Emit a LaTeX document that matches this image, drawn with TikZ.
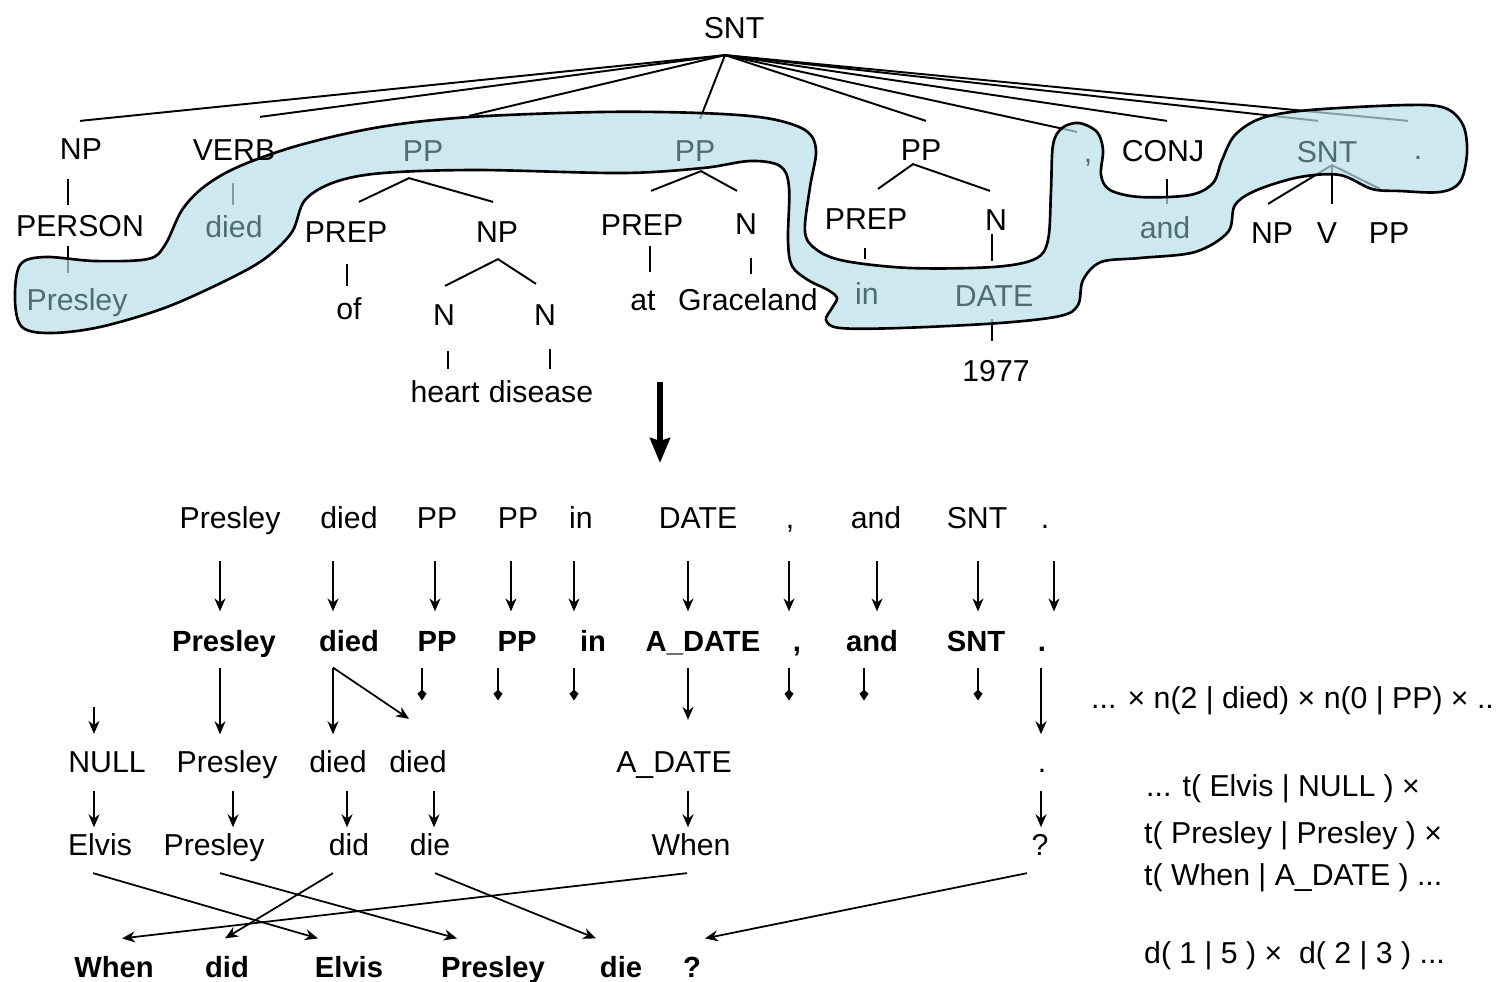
\documentclass[tikz,border=0pt]{standalone}
\usepackage{fontspec}
\setmainfont{Liberation Sans}
\usetikzlibrary{arrows.meta,calc}
\definecolor{blobfill}{RGB}{184,222,231}
\definecolor{blobtext}{RGB}{78,108,118}
\pgfdeclarelayer{lines}
\pgfdeclarelayer{blob}
\pgfsetlayers{lines,blob,main}

\tikzset{
  word/.style={inner sep=1pt, text height=6.2pt, text depth=0pt, font=\fontsize{8.6pt}{10pt}\selectfont},
  bword/.style={word, text height=5.9pt, font=\fontsize{8.3pt}{10pt}\selectfont\bfseries},
  inblob/.style={word, text=blobtext},
  cost/.style={word, anchor=west},
  tline/.style={line width=0.55pt},
  arr/.style={line width=0.5pt, -{Stealth[length=0.13cm,width=0.11cm]}},
  gone/.style={line width=0.5pt, -{Kite[length=0.11cm,width=0.09cm,inset=0.04cm]}},
  blobline/.style={draw=black, line width=0.75pt, fill=blobfill, fill opacity=0.7}
}

\begin{document}
\begin{tikzpicture}[x=0.01cm, y=-0.01cm]
\useasboundingbox (0,0) rectangle (1497,981);

% Parse tree
\node[word] (root) at (734,28) {SNT};
\node[word] (np) at (81,149) {NP};
\node[word] (verb) at (234,150) {VERB};
\node[inblob] (ppA) at (423,151) {PP};
\node[inblob] (ppB) at (695,151) {PP};
\node[word] (ppC) at (921,150) {PP};
\node[inblob] (comma) at (1088,152) {,};
\node[word] (conj) at (1163,151) {CONJ};
\node[inblob] (sntB) at (1327,152) {SNT};
\node[inblob] (stop) at (1418,149) {.};

\node[word] (person) at (80,226) {PERSON};
\node[inblob] (died) at (234,227) {died};
\node[word] (prepA) at (346,232) {PREP};
\node[word] (npB) at (497,232) {NP};
\node[word] (prepB) at (642,225) {PREP};
\node[word] (nB) at (746,224) {N};
\node[word] (prepC) at (866,219) {PREP};
\node[word] (nC) at (996,220) {N};
\node[inblob] (andw) at (1165,228) {and};
\node[word] (npC) at (1272,233) {NP};
\node[word] (vC) at (1327,233) {V};
\node[word] (ppD) at (1389,233) {PP};

\node[inblob] (presley) at (77,300) {Presley};
\node[word] (ofw) at (349,309) {of};
\node[word] (nL) at (444,315) {N};
\node[word] (nR) at (545,315) {N};
\node[word] (atw) at (643,300) {at};
\node[word] (grace) at (748,300) {Graceland};
\node[inblob] (inw) at (867,294) {in};
\node[inblob] (date) at (994,296) {DATE};
\node[word] (heart) at (445,392) {heart};
\node[word] (disease) at (541,392) {disease};
\node[word] (year) at (996,371) {1977};

% Tree edges
\begin{pgfonlayer}{lines}
\coordinate (apex) at ($(root.south)+(-9,12)$);
\foreach \n/\dx/\dy in {np/-1/-13, verb/26/-18, ppA/46/-20, ppB/5/-17, ppC/5/-14, comma/-11/-5, conj/4/-15, sntB/-9/-16, stop/-10/-13}
  \draw[tline] (apex) -- ($(\n.north)+(\dx,\dy)$);
\draw[tline] ($(np.south)+(-13,15)$) -- ($(person.north)+(-12,-6)$);
\draw[tline] ($(person.south)+(-12,5)$) -- ($(presley.north)+(-9,-12)$);
\draw[tline] ($(verb.south)+(-1,18)$) -- ($(died.north)+(-1,-7)$);
\draw[tline] ($(prepA.north)+(13,-15)$) -- ($(ppA.south)+(-14,12)$) -- ($(npB.north)+(-4,-15)$);
\draw[tline] ($(nL.north)+(1,-14)$) -- ($(npB.south)+(1,12)$) -- ($(nR.north)+(-9,-16)$);
\draw[tline] ($(prepA.south)+(1,17)$) -- ($(ofw.north)+(-2,-8)$);
\draw[tline] ($(nL.south)+(4,21)$) -- ($(heart.north)+(3,-8)$);
\draw[tline] ($(nR.south)+(5,19)$) -- ($(disease.north)+(9,-8)$);
\draw[tline] ($(prepB.north)+(9,-19)$) -- ($(ppB.south)+(6,5)$) -- ($(nB.north)+(-9,-18)$);
\draw[tline] ($(prepB.south)+(8,6)$) -- ($(atw.north)+(7,-13)$);
\draw[tline] ($(nB.south)+(5,19)$) -- ($(grace.north)+(3,-11)$);
\draw[tline] ($(prepC.north)+(12,-15)$) -- ($(ppC.south)+(-8,-1)$) -- ($(nC.north)+(-6,-14)$);
\draw[tline] ($(prepC.south)+(-1,14)$) -- ($(inw.north)+(-2,-20)$);
\draw[tline] ($(nC.south)+(-4,-1)$) -- ($(date.north)+(-2,-20)$);
\draw[tline] ($(date.south)+(-2,8)$) -- ($(year.north)+(-4,-15)$);
\draw[tline] ($(conj.south)+(4,13)$) -- ($(andw.north)+(2,-9)$);
\draw[tline] ($(npC.north)+(-4,-14)$) -- ($(sntB.south)+(5,-2)$) -- ($(ppD.north)+(-9,-29)$);
\draw[tline] ($(sntB.south)+(5,-2)$) -- ($(vC.north)+(5,-14)$);
\end{pgfonlayer}

% Region of the tree that is kept
\begin{pgfonlayer}{blob}
\draw[blobline] plot[smooth cycle, tension=0.55] coordinates {
  (15,300) (20,265) (45,257) (95,261) (148,259) (165,245) (182,210) (205,186)
  (240,166) (300,145) (380,127) (470,117) (600,112) (700,113) (766,118) (805,130)
  (816,150) (810,187) (805,232) (817,250) (845,261) (910,268) (993,267) (1035,259)
  (1048,240) (1051,190) (1053,145) (1062,128) (1079,123) (1097,132) (1103,150) (1101,175)
  (1110,190) (1140,197) (1190,195) (1213,183) (1222,160) (1235,135) (1262,118) (1310,110)
  (1407,105) (1445,108) (1463,125) (1467,153) (1460,182) (1440,192) (1400,191) (1372,189)
  (1340,175) (1300,177) (1257,190) (1235,205) (1228,232) (1195,252) (1140,258) (1101,262)
  (1083,280) (1078,305) (1060,316) (1000,323) (900,328) (840,328) (826,320) (832,308)
  (837,298) (828,290) (808,280) (792,266) (788,240) (789,187) (780,166) (750,161)
  (703,168) (622,173) (478,170) (383,173) (335,182) (305,200) (292,232) (267,257)
  (233,277) (167,307) (100,327) (50,333) (22,327)};
\end{pgfonlayer}

% Big arrow
\coordinate (bigtop) at (660,382);
\coordinate (bigtip) at (660,463);
\draw[line width=1.5pt, -{Stealth[length=0.25cm,width=0.2cm,inset=0.03cm]}] (bigtop) -- (bigtip);

% Rows of the translation
\foreach \n/\x/\w in {a/230/Presley, b/349/died, c/437/PP, d/518/PP, e/581/in, f/698/DATE, g/790/{,}, h/876/and, i/977/SNT, j/1045/.}
  \node[word] (r1\n) at (\x,518) {\w};
\foreach \n/\x/\w in {a/224/Presley, b/349/died, c/437/PP, d/517/PP, e/593/in, f/703/A\_DATE, g/797/{,}, h/872/and, i/976/SNT, j/1042/.}
  \node[bword] (r2\n) at (\x,641) {\w};
\foreach \n/\x/\w in {a/107/NULL, b/227/Presley, c/338/died, d/418/died, e/674/A\_DATE, f/1042/.}
  \node[word] (r3\n) at (\x,762) {\w};
\foreach \n/\x/\w in {a/100/Elvis, b/214/Presley, c/349/did, d/430/die, e/691/When, f/1040/?}
  \node[word] (r4\n) at (\x,845) {\w};
\foreach \n/\x/\w in {a/114/When, b/227/did, c/349/Elvis, d/493/Presley, e/621/die, f/692/?}
  \node[bword] (r5\n) at (\x,967) {\w};

% Arrows between rows
\foreach \n/\x in {a/220, b/333, c/435, d/511, e/574, f/688, g/789, h/877, i/978, j/1054}
  \draw[arr, shorten <=0.276cm, shorten >=0.15cm] (r1\n.south -| \x,0) -- (r2\n.north -| \x,0);
\foreach \a/\b/\x in {a/b/220, b/c/333, j/f/1041}
  \draw[arr, shorten <=0.12cm, shorten >=0.126cm] (r2\a.south -| \x,0) -- (r3\b.north -| \x,0);
\draw[arr, shorten <=0.12cm, shorten >=0.27cm] (r2f.south -| 688,0) -- (r3e.north -| 688,0);
\draw[arr] (r2b.south -| 333,0) ++(0,12) -- ($(r3d.north)+(-9,-28)$);
\foreach \n/\x in {c/422, d/498, e/574, g/789, h/864, i/978}
  \draw[gone] (r2\n.south -| \x,0) ++(0,12) -- ++(0,33);
\draw[arr] (r3a.north -| 94,0) ++(0,-40) -- ++(0,27);
\foreach \n/\x in {a/94, b/233, c/347, d/434, e/688, f/1041}
  \draw[arr, shorten <=0.136cm, shorten >=0.026cm] (r3\n.south -| \x,0) -- (r4\n.north -| \x,0);

% Reordering
\draw[arr] ($(r4a.south)+(-7,13)$) -- ($(r5c.north)+(-31,-14)$);
\draw[arr] ($(r4b.south)+(6,13)$) -- ($(r5d.north)+(-36,-14)$);
\draw[arr] ($(r4c.south)+(-16,13)$) -- ($(r5b.north)+(-2,-14)$);
\draw[arr] ($(r4d.south)+(5,13)$) -- ($(r5e.north)+(-25,-14)$);
\draw[arr] ($(r4e.south)+(-4,13)$) -- ($(r5a.north)+(8,-14)$);
\draw[arr] ($(r4f.south)+(-13,13)$) -- ($(r5f.north)+(13,-14)$);

% Model probabilities
\node[cost] (fert) at (1087,698) {... × n(2 | died) × n(0 | PP) × ..};
\node[cost] (transA) at (1142,786) {... t( Elvis | NULL ) ×};
\node[cost] (transB) at (1140,833) {t( Presley | Presley ) ×};
\node[cost] (transC) at (1140,875) {t( When | A\_DATE ) ...};
\node[cost] (dist) at (1140,953) {d( 1 | 5 ) ×\ \ d( 2 | 3 ) ...};
\end{tikzpicture}
\end{document}
